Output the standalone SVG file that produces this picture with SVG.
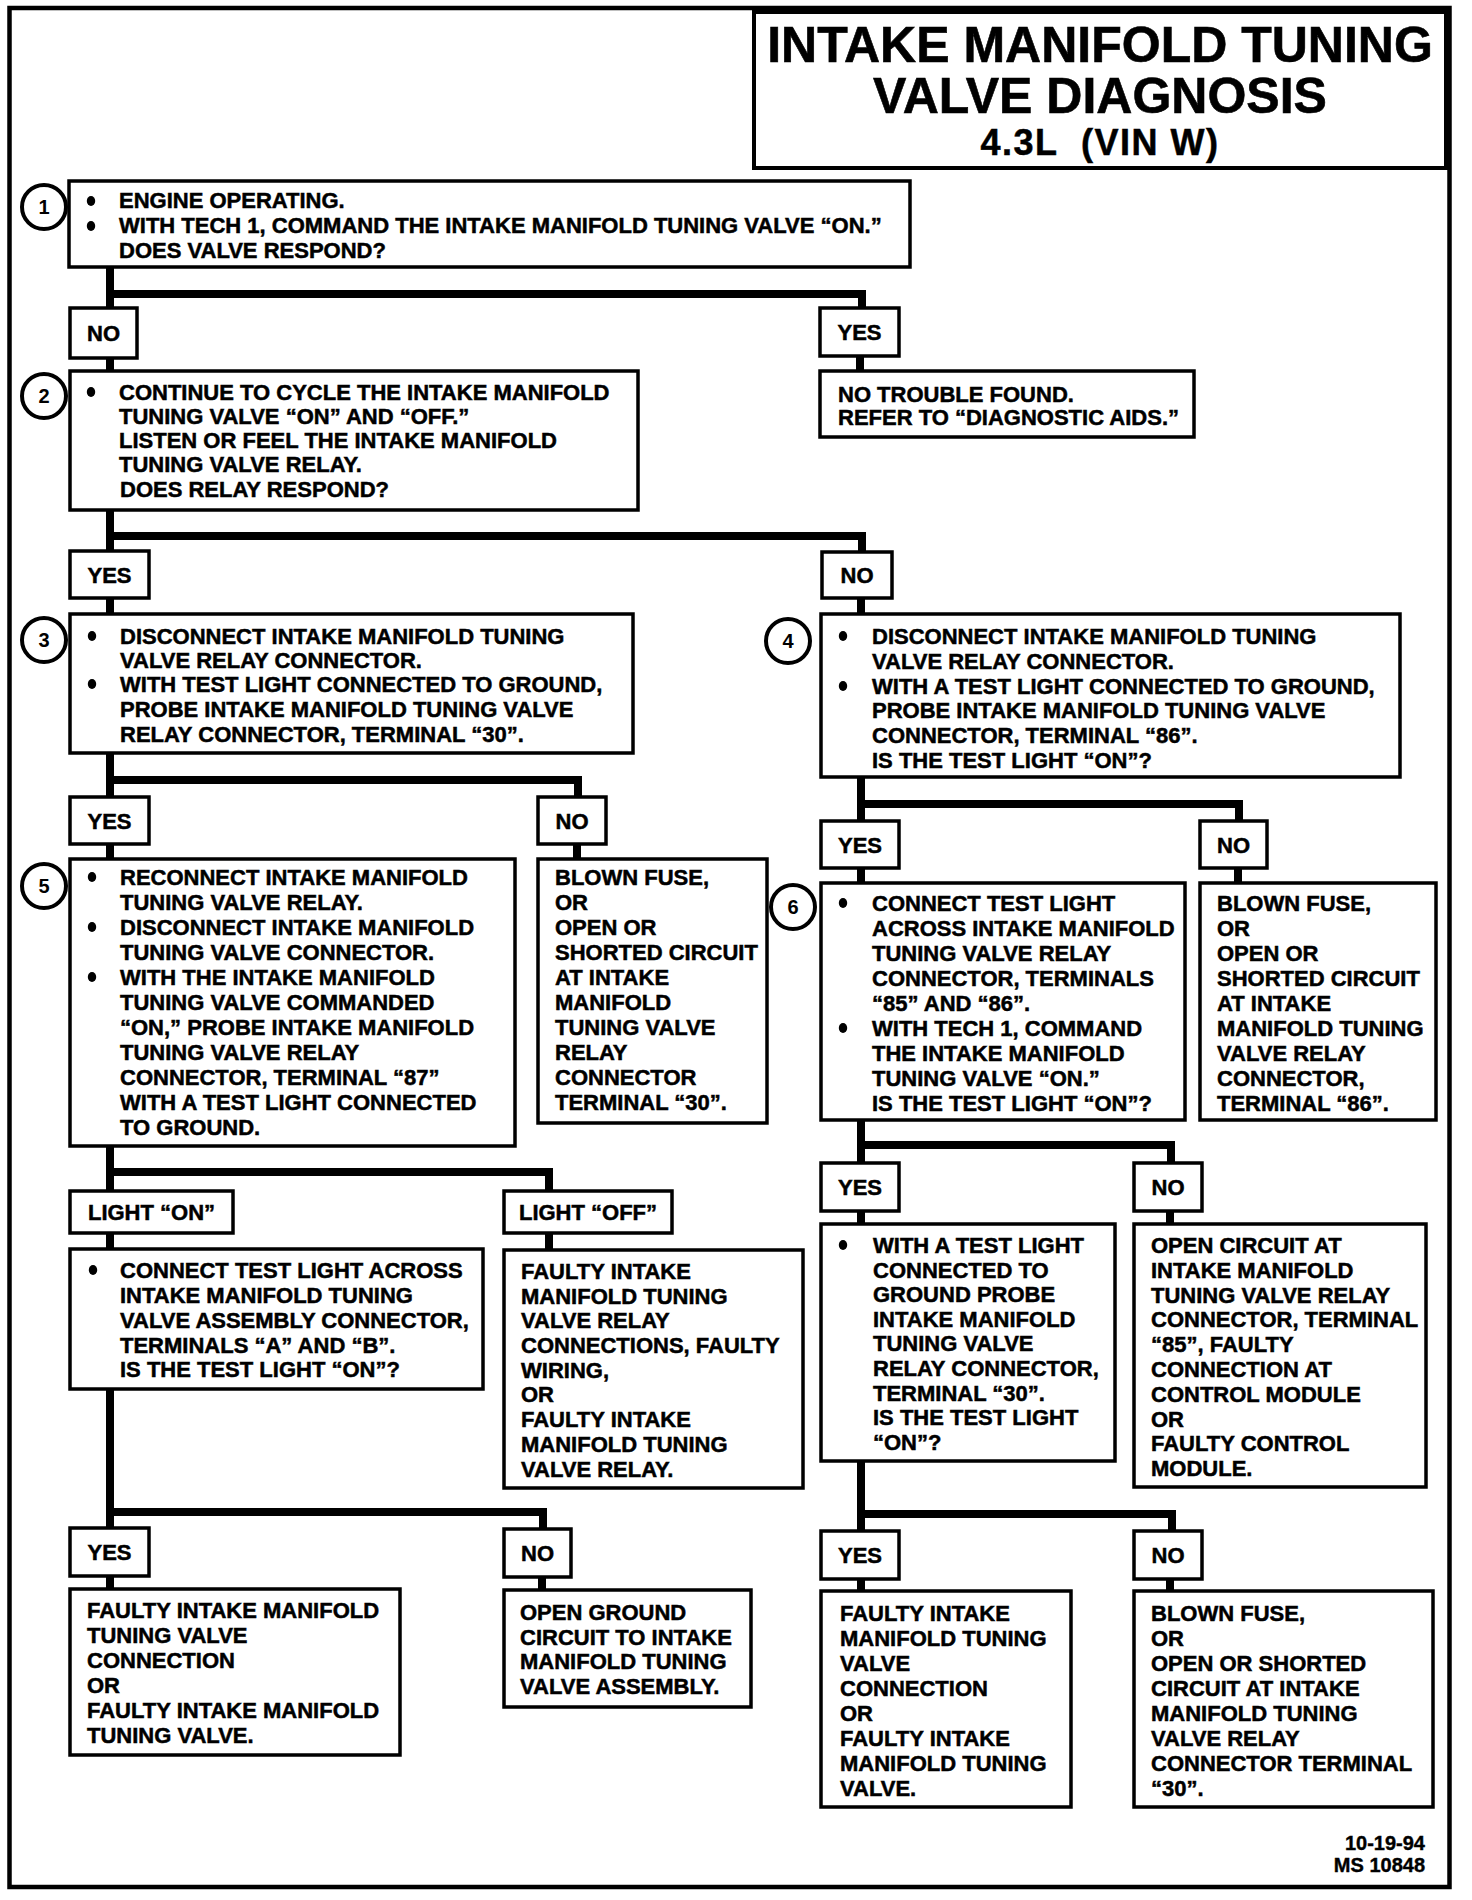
<svg xmlns="http://www.w3.org/2000/svg" width="1472" height="1900" viewBox="0 0 1472 1900">
<style>
.bg{fill:#fff}
.frame{fill:none;stroke:#000;stroke-width:4.5}
.box{fill:#fff;stroke:#000;stroke-width:3.5}
.conn{fill:none;stroke:#000;stroke-width:8;stroke-linejoin:miter;stroke-linecap:butt}
.circ{fill:#fff;stroke:#000;stroke-width:4}
.t{font-family:"Liberation Sans",Arial,Helvetica,sans-serif;font-weight:bold;font-size:22px;fill:#000;stroke:#000;stroke-width:0.5}
.c{text-anchor:middle}
.num{font-family:"Liberation Sans",Arial,Helvetica,sans-serif;font-weight:bold;font-size:20px;text-anchor:middle;fill:#000}
.title{font-family:"Liberation Sans",Arial,Helvetica,sans-serif;font-weight:bold;font-size:50px;text-anchor:middle;fill:#000;stroke:#000;stroke-width:0.6}
.sub{font-family:"Liberation Sans",Arial,Helvetica,sans-serif;font-weight:bold;font-size:36px;text-anchor:middle;fill:#000;white-space:pre;letter-spacing:1.5px;stroke:#000;stroke-width:0.5}
.foot{font-family:"Liberation Sans",Arial,Helvetica,sans-serif;font-weight:bold;font-size:20px;text-anchor:end;fill:#000;stroke:#000;stroke-width:0.4}
</style>
<defs>
<ellipse id="dot" rx="4.2" ry="5" fill="#000"/>
</defs>
<rect class="bg" x="0" y="0" width="1472" height="1900"/>
<rect class="frame" x="9.5" y="8" width="1440" height="1879"/>

<g id="title">
<rect class="box" x="754" y="12" width="692" height="156" style="stroke-width:4"/>
<text class="title" x="1100" y="62">INTAKE MANIFOLD TUNING</text>
<text class="title" x="1100" y="113">VALVE DIAGNOSIS</text>
<text class="sub" x="1100" y="155">4.3L  (VIN W)</text>
</g>

<g id="connectors">
<path class="conn" d="M110,268 V308"/>
<path class="conn" d="M110,294 H862 V308"/>
<path class="conn" d="M110,358 V371"/>
<path class="conn" d="M860,356 V371"/>
<path class="conn" d="M110,510 V551"/>
<path class="conn" d="M110,536 H862 V552"/>
<path class="conn" d="M110,598 V614"/>
<path class="conn" d="M861,598 V614"/>
<path class="conn" d="M110,753 V797"/>
<path class="conn" d="M110,780 H578 V797"/>
<path class="conn" d="M110,844 V859"/>
<path class="conn" d="M577,844 V859"/>
<path class="conn" d="M861,777 V821"/>
<path class="conn" d="M861,804 H1239 V821"/>
<path class="conn" d="M861,868 V883"/>
<path class="conn" d="M1238,868 V883"/>
<path class="conn" d="M110,1146 V1191"/>
<path class="conn" d="M110,1172 H549 V1191"/>
<path class="conn" d="M110,1233 V1249"/>
<path class="conn" d="M549,1233 V1250"/>
<path class="conn" d="M110,1389 V1528"/>
<path class="conn" d="M110,1512 H543 V1529"/>
<path class="conn" d="M110,1576 V1589"/>
<path class="conn" d="M542,1577 V1590"/>
<path class="conn" d="M861,1120 V1163"/>
<path class="conn" d="M861,1145 H1171 V1163"/>
<path class="conn" d="M861,1211 V1224"/>
<path class="conn" d="M1170,1211 V1224"/>
<path class="conn" d="M861,1461 V1531"/>
<path class="conn" d="M861,1514 H1172 V1531"/>
<path class="conn" d="M861,1579 V1591"/>
<path class="conn" d="M1170,1579 V1591"/>
</g>

<g id="step1">
<circle class="circ" cx="44" cy="207" r="22"/>
<text class="num" x="44" y="214">1</text>
<rect class="box" x="69" y="181" width="841" height="86"/>
<use href="#dot" x="91" y="201"/>
<use href="#dot" x="91" y="226"/>
<text class="t" x="119" y="208">ENGINE OPERATING.</text>
<text class="t" x="119" y="233">WITH TECH 1, COMMAND THE INTAKE MANIFOLD TUNING VALVE “ON.”</text>
<text class="t" x="119" y="258">DOES VALVE RESPOND?</text>
</g>

<g id="no1"><rect class="box" x="70" y="308" width="67" height="50"/><text class="t c" x="103.5" y="341">NO</text></g>
<g id="yes1"><rect class="box" x="820" y="308" width="79" height="48"/><text class="t c" x="859.5" y="340">YES</text></g>

<g id="ntf">
<rect class="box" x="820" y="371" width="374" height="66"/>
<text class="t" x="838" y="402">NO TROUBLE FOUND.</text>
<text class="t" x="838" y="425">REFER TO “DIAGNOSTIC AIDS.”</text>
</g>

<g id="step2">
<circle class="circ" cx="44" cy="396" r="22"/>
<text class="num" x="44" y="403">2</text>
<rect class="box" x="70" y="371" width="568" height="139"/>
<use href="#dot" x="91" y="392"/>
<text class="t" x="119" y="400">CONTINUE TO CYCLE THE INTAKE MANIFOLD</text>
<text class="t" x="119" y="424">TUNING VALVE “ON” AND “OFF.”</text>
<text class="t" x="119" y="448">LISTEN OR FEEL THE INTAKE MANIFOLD</text>
<text class="t" x="119" y="472">TUNING VALVE RELAY.</text>
<text class="t" x="120" y="497">DOES RELAY RESPOND?</text>
</g>

<g id="yes2"><rect class="box" x="70" y="551" width="79" height="47"/><text class="t c" x="109.5" y="583">YES</text></g>
<g id="no2"><rect class="box" x="822" y="552" width="70" height="46"/><text class="t c" x="857" y="583">NO</text></g>

<g id="step3">
<circle class="circ" cx="44" cy="640" r="22"/>
<text class="num" x="44" y="647">3</text>
<rect class="box" x="70" y="614" width="563" height="139"/>
<use href="#dot" x="92" y="636"/>
<use href="#dot" x="92" y="684"/>
<text class="t" x="120" y="644">DISCONNECT INTAKE MANIFOLD TUNING</text>
<text class="t" x="120" y="668">VALVE RELAY CONNECTOR.</text>
<text class="t" x="120" y="692">WITH TEST LIGHT CONNECTED TO GROUND,</text>
<text class="t" x="120" y="717">PROBE INTAKE MANIFOLD TUNING VALVE</text>
<text class="t" x="120" y="742">RELAY CONNECTOR, TERMINAL “30”.</text>
</g>

<g id="step4">
<circle class="circ" cx="788" cy="641" r="22"/>
<text class="num" x="788" y="648">4</text>
<rect class="box" x="821" y="614" width="579" height="163"/>
<use href="#dot" x="843" y="636"/>
<use href="#dot" x="843" y="686"/>
<text class="t" x="872" y="644">DISCONNECT INTAKE MANIFOLD TUNING</text>
<text class="t" x="872" y="669">VALVE RELAY CONNECTOR.</text>
<text class="t" x="872" y="694">WITH A TEST LIGHT CONNECTED TO GROUND,</text>
<text class="t" x="872" y="718">PROBE INTAKE MANIFOLD TUNING VALVE</text>
<text class="t" x="872" y="743">CONNECTOR, TERMINAL “86”.</text>
<text class="t" x="872" y="768">IS THE TEST LIGHT “ON”?</text>
</g>

<g id="yes3"><rect class="box" x="70" y="797" width="79" height="47"/><text class="t c" x="109.5" y="829">YES</text></g>
<g id="no3"><rect class="box" x="538" y="797" width="68" height="47"/><text class="t c" x="572" y="829">NO</text></g>
<g id="yes4"><rect class="box" x="821" y="821" width="78" height="47"/><text class="t c" x="860" y="853">YES</text></g>
<g id="no4"><rect class="box" x="1200" y="821" width="67" height="47"/><text class="t c" x="1233.5" y="853">NO</text></g>

<g id="step5">
<circle class="circ" cx="44" cy="886" r="22"/>
<text class="num" x="44" y="893">5</text>
<rect class="box" x="70" y="859" width="445" height="287"/>
<use href="#dot" x="92" y="877"/>
<use href="#dot" x="92" y="927"/>
<use href="#dot" x="92" y="977"/>
<text class="t" x="120" y="885">RECONNECT INTAKE MANIFOLD</text>
<text class="t" x="120" y="910">TUNING VALVE RELAY.</text>
<text class="t" x="120" y="935">DISCONNECT INTAKE MANIFOLD</text>
<text class="t" x="120" y="960">TUNING VALVE CONNECTOR.</text>
<text class="t" x="120" y="985">WITH THE INTAKE MANIFOLD</text>
<text class="t" x="120" y="1010">TUNING VALVE COMMANDED</text>
<text class="t" x="120" y="1035">“ON,” PROBE INTAKE MANIFOLD</text>
<text class="t" x="120" y="1060">TUNING VALVE RELAY</text>
<text class="t" x="120" y="1085">CONNECTOR, TERMINAL “87”</text>
<text class="t" x="120" y="1110">WITH A TEST LIGHT CONNECTED</text>
<text class="t" x="120" y="1135">TO GROUND.</text>
</g>

<g id="blown3">
<rect class="box" x="538" y="859" width="229" height="264"/>
<text class="t" x="555" y="885">BLOWN FUSE,</text>
<text class="t" x="555" y="910">OR</text>
<text class="t" x="555" y="935">OPEN OR</text>
<text class="t" x="555" y="960">SHORTED CIRCUIT</text>
<text class="t" x="555" y="985">AT INTAKE</text>
<text class="t" x="555" y="1010">MANIFOLD</text>
<text class="t" x="555" y="1035">TUNING VALVE</text>
<text class="t" x="555" y="1060">RELAY</text>
<text class="t" x="555" y="1085">CONNECTOR</text>
<text class="t" x="555" y="1110">TERMINAL “30”.</text>
</g>

<g id="step6">
<circle class="circ" cx="793" cy="907" r="22"/>
<text class="num" x="793" y="914">6</text>
<rect class="box" x="821" y="883" width="364" height="237"/>
<use href="#dot" x="843" y="903"/>
<use href="#dot" x="843" y="1028"/>
<text class="t" x="872" y="911">CONNECT TEST LIGHT</text>
<text class="t" x="872" y="936">ACROSS INTAKE MANIFOLD</text>
<text class="t" x="872" y="961">TUNING VALVE RELAY</text>
<text class="t" x="872" y="986">CONNECTOR, TERMINALS</text>
<text class="t" x="872" y="1011">“85” AND “86”.</text>
<text class="t" x="872" y="1036">WITH TECH 1, COMMAND</text>
<text class="t" x="872" y="1061">THE INTAKE MANIFOLD</text>
<text class="t" x="872" y="1086">TUNING VALVE “ON.”</text>
<text class="t" x="872" y="1111">IS THE TEST LIGHT “ON”?</text>
</g>

<g id="blown4">
<rect class="box" x="1200" y="883" width="236" height="237"/>
<text class="t" x="1217" y="911">BLOWN FUSE,</text>
<text class="t" x="1217" y="936">OR</text>
<text class="t" x="1217" y="961">OPEN OR</text>
<text class="t" x="1217" y="986">SHORTED CIRCUIT</text>
<text class="t" x="1217" y="1011">AT INTAKE</text>
<text class="t" x="1217" y="1036">MANIFOLD TUNING</text>
<text class="t" x="1217" y="1061">VALVE RELAY</text>
<text class="t" x="1217" y="1086">CONNECTOR,</text>
<text class="t" x="1217" y="1111">TERMINAL “86”.</text>
</g>

<g id="lighton"><rect class="box" x="70" y="1191" width="163" height="42"/><text class="t c" x="151.5" y="1220">LIGHT “ON”</text></g>
<g id="lightoff"><rect class="box" x="504" y="1191" width="168" height="42"/><text class="t c" x="588" y="1220">LIGHT “OFF”</text></g>

<g id="step7">
<rect class="box" x="70" y="1249" width="413" height="140"/>
<use href="#dot" x="93" y="1270"/>
<text class="t" x="120" y="1278">CONNECT TEST LIGHT ACROSS</text>
<text class="t" x="120" y="1303">INTAKE MANIFOLD TUNING</text>
<text class="t" x="120" y="1328">VALVE ASSEMBLY CONNECTOR,</text>
<text class="t" x="120" y="1353">TERMINALS “A” AND “B”.</text>
<text class="t" x="120" y="1377">IS THE TEST LIGHT “ON”?</text>
</g>

<g id="faultyrelay">
<rect class="box" x="504" y="1250" width="299" height="238"/>
<text class="t" x="521" y="1279">FAULTY INTAKE</text>
<text class="t" x="521" y="1304">MANIFOLD TUNING</text>
<text class="t" x="521" y="1328">VALVE RELAY</text>
<text class="t" x="521" y="1353">CONNECTIONS, FAULTY</text>
<text class="t" x="521" y="1378">WIRING,</text>
<text class="t" x="521" y="1402">OR</text>
<text class="t" x="521" y="1427">FAULTY INTAKE</text>
<text class="t" x="521" y="1452">MANIFOLD TUNING</text>
<text class="t" x="521" y="1477">VALVE RELAY.</text>
</g>

<g id="yes6"><rect class="box" x="821" y="1163" width="78" height="48"/><text class="t c" x="860" y="1195">YES</text></g>
<g id="no6"><rect class="box" x="1134" y="1163" width="68" height="48"/><text class="t c" x="1168" y="1195">NO</text></g>

<g id="step8">
<rect class="box" x="821" y="1224" width="294" height="237"/>
<use href="#dot" x="843" y="1245"/>
<text class="t" x="873" y="1253">WITH A TEST LIGHT</text>
<text class="t" x="873" y="1278">CONNECTED TO</text>
<text class="t" x="873" y="1302">GROUND PROBE</text>
<text class="t" x="873" y="1327">INTAKE MANIFOLD</text>
<text class="t" x="873" y="1351">TUNING VALVE</text>
<text class="t" x="873" y="1376">RELAY CONNECTOR,</text>
<text class="t" x="873" y="1401">TERMINAL “30”.</text>
<text class="t" x="873" y="1425">IS THE TEST LIGHT</text>
<text class="t" x="873" y="1450">“ON”?</text>
</g>

<g id="opencircuit">
<rect class="box" x="1134" y="1224" width="292" height="263"/>
<text class="t" x="1151" y="1253">OPEN CIRCUIT AT</text>
<text class="t" x="1151" y="1278">INTAKE MANIFOLD</text>
<text class="t" x="1151" y="1303">TUNING VALVE RELAY</text>
<text class="t" x="1151" y="1327">CONNECTOR, TERMINAL</text>
<text class="t" x="1151" y="1352">“85”, FAULTY</text>
<text class="t" x="1151" y="1377">CONNECTION AT</text>
<text class="t" x="1151" y="1402">CONTROL MODULE</text>
<text class="t" x="1151" y="1427">OR</text>
<text class="t" x="1151" y="1451">FAULTY CONTROL</text>
<text class="t" x="1151" y="1476">MODULE.</text>
</g>

<g id="yes5"><rect class="box" x="70" y="1528" width="79" height="48"/><text class="t c" x="109.5" y="1560">YES</text></g>
<g id="no5"><rect class="box" x="504" y="1529" width="67" height="48"/><text class="t c" x="537.5" y="1561">NO</text></g>
<g id="yes7"><rect class="box" x="821" y="1531" width="78" height="48"/><text class="t c" x="860" y="1563">YES</text></g>
<g id="no7"><rect class="box" x="1134" y="1531" width="68" height="48"/><text class="t c" x="1168" y="1563">NO</text></g>

<g id="faultyvalve">
<rect class="box" x="70" y="1589" width="330" height="166"/>
<text class="t" x="87" y="1618">FAULTY INTAKE MANIFOLD</text>
<text class="t" x="87" y="1643">TUNING VALVE</text>
<text class="t" x="87" y="1668">CONNECTION</text>
<text class="t" x="87" y="1693">OR</text>
<text class="t" x="87" y="1718">FAULTY INTAKE MANIFOLD</text>
<text class="t" x="87" y="1743">TUNING VALVE.</text>
</g>

<g id="openground">
<rect class="box" x="504" y="1590" width="247" height="117"/>
<text class="t" x="520" y="1620">OPEN GROUND</text>
<text class="t" x="520" y="1645">CIRCUIT TO INTAKE</text>
<text class="t" x="520" y="1669">MANIFOLD TUNING</text>
<text class="t" x="520" y="1694">VALVE ASSEMBLY.</text>
</g>

<g id="faultyvalve2">
<rect class="box" x="821" y="1591" width="250" height="216"/>
<text class="t" x="840" y="1621">FAULTY INTAKE</text>
<text class="t" x="840" y="1646">MANIFOLD TUNING</text>
<text class="t" x="840" y="1671">VALVE</text>
<text class="t" x="840" y="1696">CONNECTION</text>
<text class="t" x="840" y="1721">OR</text>
<text class="t" x="840" y="1746">FAULTY INTAKE</text>
<text class="t" x="840" y="1771">MANIFOLD TUNING</text>
<text class="t" x="840" y="1796">VALVE.</text>
</g>

<g id="blown5">
<rect class="box" x="1134" y="1591" width="299" height="216"/>
<text class="t" x="1151" y="1621">BLOWN FUSE,</text>
<text class="t" x="1151" y="1646">OR</text>
<text class="t" x="1151" y="1671">OPEN OR SHORTED</text>
<text class="t" x="1151" y="1696">CIRCUIT AT INTAKE</text>
<text class="t" x="1151" y="1721">MANIFOLD TUNING</text>
<text class="t" x="1151" y="1746">VALVE RELAY</text>
<text class="t" x="1151" y="1771">CONNECTOR TERMINAL</text>
<text class="t" x="1151" y="1796">“30”.</text>
</g>

<g id="footer">
<text class="foot" x="1425" y="1850">10-19-94</text>
<text class="foot" x="1425" y="1872">MS 10848</text>
</g>
</svg>
